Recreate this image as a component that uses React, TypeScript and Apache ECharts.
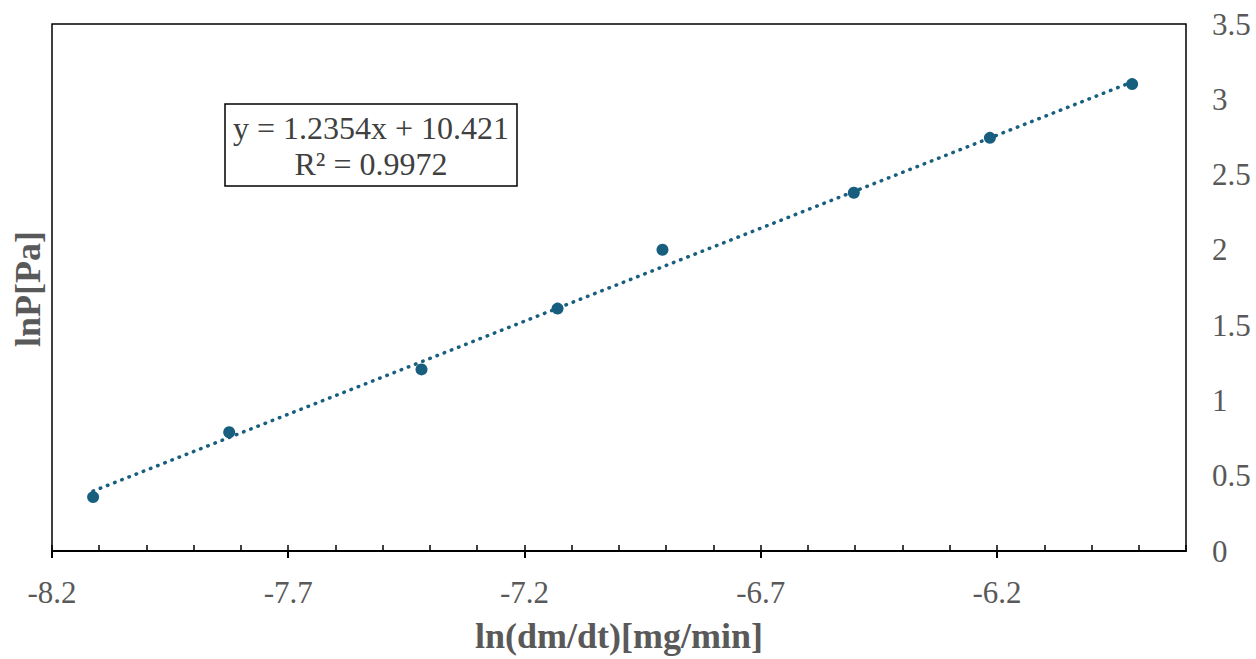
import React, { useEffect, useRef } from "react";
import * as echarts from "echarts";

const xValues = [-8.113, -7.825, -7.418, -7.13, -6.908, -6.503, -6.215, -5.914];
const yValues = [0.358, 0.789, 1.206, 1.61, 2.001, 2.379, 2.744, 3.101];
const trendX = [-8.113, -5.914];
const trendY = [0.398, 3.115];
const majorTicks = [-8.2, -7.7, -7.2, -6.7, -6.2];
const yTicks = [0, 0.5, 1, 1.5, 2, 2.5, 3, 3.5];
const equationLines = ["y = 1.2354x + 10.421", "R² = 0.9972"];
const xTitle = "ln(dm/dt)[mg/min]";
const yTitle = "lnP[Pa]";

const FONT = "'Liberation Serif', 'Times New Roman', serif";
const GRAY = "#595959";
const BLUE = "#175E7F";

export default function App() {
  const ref = useRef<HTMLDivElement>(null);
  useEffect(() => {
    document.body.style.margin = "0";
    const chart = echarts.init(ref.current!, null, { renderer: "svg" });
    chart.setOption({
      animation: false,
      backgroundColor: "#fff",
      grid: {
        left: 52,
        right: 70,
        top: 24,
        bottom: 106,
        show: true,
        borderColor: "#000",
        borderWidth: 1.5,
        backgroundColor: "transparent",
      },
      xAxis: [
        {
          type: "value",
          min: -8.2,
          max: -5.8,
          interval: 0.1,
          position: "bottom",
          axisLine: { show: true, lineStyle: { color: "#000", width: 2 } },
          axisTick: { show: true, inside: true, length: 6, lineStyle: { color: "#000", width: 1.5 } },
          axisLabel: { show: false },
          splitLine: { show: false },
          name: xTitle,
          nameLocation: "middle",
          nameGap: 67,
          nameTextStyle: { fontFamily: FONT, fontWeight: "bold", fontSize: 36, color: GRAY },
        },
        {
          type: "value",
          min: -8.2,
          max: -5.8,
          interval: 0.5,
          position: "bottom",
          axisLine: { show: false },
          axisTick: {
            show: true,
            inside: false,
            length: 7,
            customValues: majorTicks,
            lineStyle: { color: "#000", width: 2 },
          },
          axisLabel: {
            show: true,
            customValues: majorTicks,
            formatter: (v: number) => v.toFixed(1),
            fontFamily: FONT,
            fontSize: 31,
            color: GRAY,
            margin: 26,
          },
          splitLine: { show: false },
        },
      ],
      yAxis: {
        type: "value",
        position: "right",
        min: 0,
        max: 3.5,
        interval: 0.5,
        axisLine: { show: false },
        axisTick: { show: false },
        splitLine: { show: false },
        axisLabel: {
          customValues: yTicks,
          fontFamily: FONT,
          fontSize: 31,
          color: GRAY,
          margin: 26,
          formatter: (v: number) => String(v),
        },
      },
      series: [
        {
          type: "line",
          xAxisIndex: 0,
          data: trendX.map((x, i) => [x, trendY[i]]),
          showSymbol: false,
          symbol: "none",
          lineStyle: { color: BLUE, width: 3.5, type: [0.5, 7.2], cap: "round" },
          z: 1,
        },
        {
          type: "scatter",
          xAxisIndex: 0,
          data: xValues.map((x, i) => [x, yValues[i]]),
          symbolSize: 12,
          itemStyle: { color: BLUE, opacity: 1 },
          z: 2,
        },
      ],
      graphic: [
        {
          type: "rect",
          shape: { x: 225, y: 104, width: 292, height: 82 },
          style: { fill: "#fff", stroke: "#000", lineWidth: 1.5 },
          z: 10,
        },
        {
          type: "text",
          x: 371,
          y: 146,
          style: {
            text: equationLines.join("\n"),
            font: `32px ${FONT}`,
            fill: "#404040",
            align: "center",
            verticalAlign: "middle",
            lineHeight: 36,
          },
          z: 11,
        },
        {
          type: "text",
          x: 28,
          y: 289,
          rotation: Math.PI / 2,
          style: {
            text: yTitle,
            font: `bold 36px ${FONT}`,
            fill: GRAY,
            align: "center",
            verticalAlign: "middle",
          },
          z: 11,
        },
      ],
    });
    return () => chart.dispose();
  }, []);
  return <div ref={ref} style={{ width: 1256, height: 659 }} />;
}
